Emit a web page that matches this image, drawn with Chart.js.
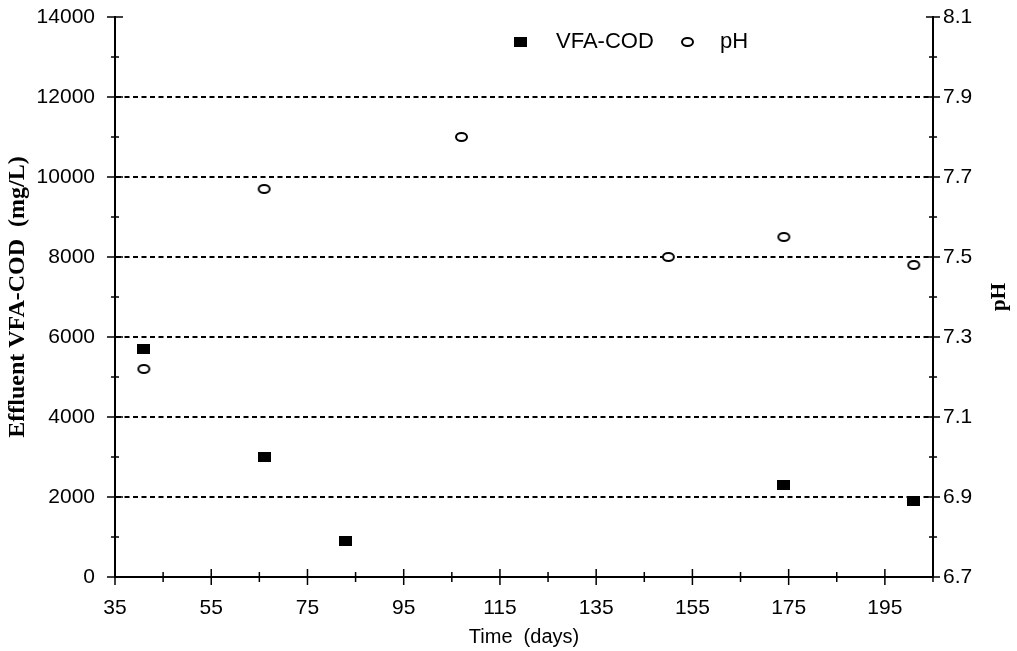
<!DOCTYPE html>
<html>
<head>
<meta charset="utf-8">
<script src="https://cdn.jsdelivr.net/npm/chart.js@4"></script>
<style>
  html, body { margin: 0; padding: 0; background: #fff; }
  #wrap { width: 1017px; height: 651px; }
</style>
</head>
<body>
<div id="wrap"><canvas id="chart"></canvas></div>
<script>
// data
const vfaDays = [41, 66, 83, 174, 201];
const vfaCod = [5700, 3000, 900, 2300, 1900];
const phDays = [41, 66, 107, 150, 174, 201];
const phValues = [7.22, 7.67, 7.80, 7.50, 7.55, 7.48];

// axis ticks
const xTicks = [35, 45, 55, 65, 75, 85, 95, 105, 115, 125, 135, 145, 155, 165, 175, 185, 195, 205];
const xLabels = [35, 55, 75, 95, 115, 135, 155, 175, 195];
const yTicks = [0, 1000, 2000, 3000, 4000, 5000, 6000, 7000, 8000, 9000, 10000, 11000, 12000, 13000, 14000];
const yLabels = [0, 2000, 4000, 6000, 8000, 10000, 12000, 14000];
const phTicks = [6.7, 6.8, 6.9, 7.0, 7.1, 7.2, 7.3, 7.4, 7.5, 7.6, 7.7, 7.8, 7.9, 8.0, 8.1];
const phLabels = ['6.7', '6.9', '7.1', '7.3', '7.5', '7.7', '7.9', '8.1'];

const sans = 'Liberation Sans, Arial, sans-serif';
const serif = 'Liberation Serif, Times New Roman, serif';

function squareMark() {
    const c = document.createElement('canvas');
    c.width = 13; c.height = 10;
    const g = c.getContext('2d');
    g.fillStyle = '#000';
    g.fillRect(0, 0, 13, 10);
    return c;
}

function ovalMark() {
    const c = document.createElement('canvas');
    c.width = 15; c.height = 12;
    const g = c.getContext('2d');
    g.fillStyle = '#fff';
    g.strokeStyle = '#000';
    g.lineWidth = 2;
    g.beginPath();
    g.ellipse(7.5, 6, 5.5, 4, 0, 0, Math.PI * 2);
    g.fill();
    g.stroke();
    return c;
}

const sq = squareMark();
const ov = ovalMark();

function setTicks(list) {
    return scale => { scale.ticks = list.map(v => ({ value: v })); };
}

// fixed axis sizes so the plot area lands where the original has it
function fitVertical(width) {
    return s => {
        s.width = width;
        s.paddingTop = 4;
        s.paddingBottom = 4;
    };
}

// tick marks that cross the axis lines, like the original
const crossTicks = {
    id: 'crossTicks',
    afterDraw(chart) {
        const ctx = chart.ctx;
        const { x, y, y1 } = chart.scales;
        ctx.save();
        ctx.strokeStyle = '#000';
        ctx.lineWidth = 1.5;
        const seg = (x0, y0, x2, y2) => {
            ctx.beginPath(); ctx.moveTo(x0, y0); ctx.lineTo(x2, y2); ctx.stroke();
        };
        x.ticks.forEach(t => {
            const px = x.getPixelForValue(t.value);
            const len = xLabels.includes(t.value) ? 8 : 5;
            seg(px, x.top - len, px, x.top + len);
        });
        y.ticks.forEach(t => {
            const py = y.getPixelForValue(t.value);
            const len = yLabels.includes(t.value) ? 8 : 4;
            seg(y.right - len, py, y.right + len, py);
        });
        y1.ticks.forEach(t => {
            const py = y1.getPixelForValue(t.value);
            const len = phLabels.includes(t.value.toFixed(1)) ? 7 : 4;
            seg(y1.left - len, py, y1.left + len, py);
        });

        // right axis title, read bottom to top
        ctx.fillStyle = '#000';
        ctx.font = 'bold 21px ' + serif;
        ctx.textAlign = 'center';
        ctx.textBaseline = 'middle';
        ctx.save();
        ctx.translate(1000, (chart.chartArea.top + chart.chartArea.bottom) / 2);
        ctx.rotate(-Math.PI / 2);
        ctx.fillText('pH', 0, 0);
        ctx.restore();

        // legend inside the plot
        const lx = chart.chartArea.left;
        const ly = chart.chartArea.top + 25;
        ctx.font = '22px ' + sans;
        ctx.textAlign = 'left';
        ctx.drawImage(sq, lx + 399, ly - 5);
        ctx.fillText(chart.data.datasets[0].label, lx + 441, ly);
        ctx.drawImage(ov, lx + 565, ly - 6);
        ctx.fillText(chart.data.datasets[1].label, lx + 605, ly);
        ctx.restore();
    }
};

new Chart(document.getElementById('chart'), {
    type: 'scatter',
    data: {
        datasets: [{
            label: 'VFA-COD',
            data: vfaDays.map((d, i) => ({ x: d, y: vfaCod[i] })),
            yAxisID: 'y',
            pointStyle: sq,
            borderColor: '#000',
            backgroundColor: '#000'
        }, {
            label: 'pH',
            data: phDays.map((d, i) => ({ x: d, y: phValues[i] })),
            yAxisID: 'y1',
            pointStyle: ov,
            borderColor: '#000',
            backgroundColor: '#fff'
        }]
    },
    options: {
        responsive: true,
        maintainAspectRatio: false,
        animation: false,
        layout: { padding: { top: 17, left: 0, right: 0, bottom: 0 } },
        plugins: {
            legend: { display: false },
            tooltip: { enabled: false }
        },
        scales: {
            x: {
                type: 'linear',
                min: 35,
                max: 205,
                afterBuildTicks: setTicks(xTicks),
                afterFit: s => { s.height = 74; },
                grid: { display: false, drawTicks: false },
                border: { display: true, color: '#000', width: 2 },
                ticks: {
                    autoSkip: false,
                    maxRotation: 0,
                    padding: 19,
                    color: '#000',
                    font: { family: sans, size: 21 },
                    callback: v => xLabels.includes(v) ? String(v) : ''
                },
                title: {
                    display: true,
                    text: 'Time  (days)',
                    color: '#000',
                    font: { family: sans, size: 20 },
                    padding: { top: 0, bottom: 2 }
                }
            },
            y: {
                position: 'left',
                min: 0,
                max: 14000,
                afterBuildTicks: setTicks(yTicks),
                afterFit: fitVertical(115),
                grid: {
                    drawTicks: false,
                    lineWidth: 2,
                    color: c => (c.tick && c.tick.value > 0 && c.tick.value < 14000 && c.tick.value % 2000 === 0) ? '#000' : 'rgba(0,0,0,0)'
                },
                border: { display: true, color: '#000', width: 2, dash: [5, 3.5] },
                ticks: {
                    autoSkip: false,
                    padding: 20,
                    color: '#000',
                    font: { family: sans, size: 21 },
                    callback: v => yLabels.includes(v) ? String(v) : ''
                },
                title: {
                    display: true,
                    text: 'Effluent VFA-COD  (mg/L)',
                    color: '#000',
                    font: { family: serif, size: 24, weight: 'bold' },
                    padding: { top: 3, bottom: 0 }
                }
            },
            y1: {
                position: 'right',
                min: 6.7,
                max: 8.1,
                afterBuildTicks: setTicks(phTicks),
                afterFit: fitVertical(84),
                grid: { drawOnChartArea: false, drawTicks: false },
                border: { display: true, color: '#000', width: 2 },
                ticks: {
                    autoSkip: false,
                    padding: 10,
                    color: '#000',
                    font: { family: sans, size: 21 },
                    callback: v => phLabels.includes(v.toFixed(1)) ? v.toFixed(1) : ''
                }
            }
        }
    },
    plugins: [crossTicks]
});
</script>
</body>
</html>
